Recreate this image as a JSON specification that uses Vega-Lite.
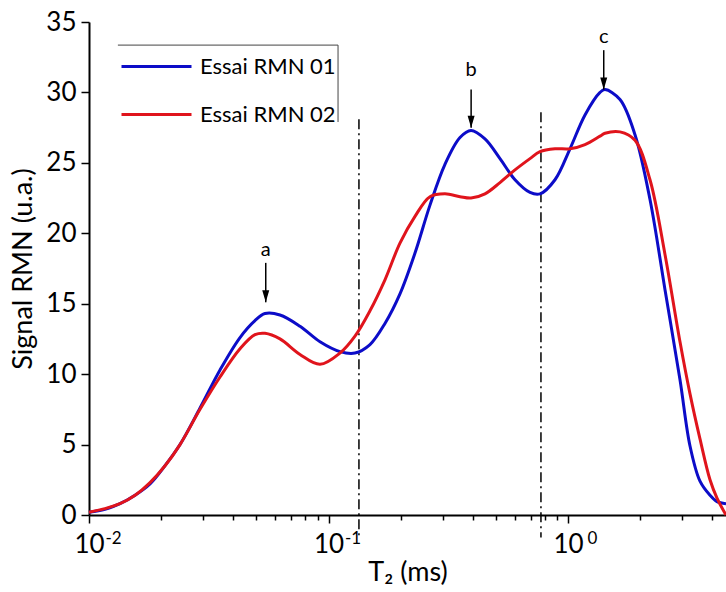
{
  "$schema": "https://vega.github.io/schema/vega-lite/v6.json",
  "width": 637,
  "height": 493,
  "autosize": {"type": "none"},
  "padding": {"left": 89, "top": 22, "right": 0, "bottom": 77},
  "config": {
    "view": {"stroke": null},
    "font": "Lato",
    "axis": {"grid": false, "domainColor": "black", "domainWidth": 2, "tickColor": "black", "tickWidth": 1.5, "labelColor": "black", "titleColor": "black", "titleFontWeight": "normal", "labelFlush": false, "labelOverlap": false}
  },
  "resolve": {"axis": {"x": "independent"}},
  "datasets": {
    "curves": [
      {"s": "Essai RMN 01", "t": 0.01, "v": 0.2},
      {"s": "Essai RMN 01", "t": 0.01166, "v": 0.4},
      {"s": "Essai RMN 01", "t": 0.01347, "v": 0.8},
      {"s": "Essai RMN 01", "t": 0.01557, "v": 1.4},
      {"s": "Essai RMN 01", "t": 0.01798, "v": 2.2},
      {"s": "Essai RMN 01", "t": 0.02077, "v": 3.5},
      {"s": "Essai RMN 01", "t": 0.02399, "v": 5.0},
      {"s": "Essai RMN 01", "t": 0.02908, "v": 7.6},
      {"s": "Essai RMN 01", "t": 0.03524, "v": 10.3},
      {"s": "Essai RMN 01", "t": 0.04271, "v": 12.6},
      {"s": "Essai RMN 01", "t": 0.04932, "v": 13.8},
      {"s": "Essai RMN 01", "t": 0.0543, "v": 14.3},
      {"s": "Essai RMN 01", "t": 0.06272, "v": 14.2},
      {"s": "Essai RMN 01", "t": 0.07603, "v": 13.4},
      {"s": "Essai RMN 01", "t": 0.09215, "v": 12.3},
      {"s": "Essai RMN 01", "t": 0.1117, "v": 11.6},
      {"s": "Essai RMN 01", "t": 0.129, "v": 11.5},
      {"s": "Essai RMN 01", "t": 0.149, "v": 12.1},
      {"s": "Essai RMN 01", "t": 0.1721, "v": 13.6},
      {"s": "Essai RMN 01", "t": 0.1988, "v": 15.7},
      {"s": "Essai RMN 01", "t": 0.2297, "v": 18.6},
      {"s": "Essai RMN 01", "t": 0.2653, "v": 22.0},
      {"s": "Essai RMN 01", "t": 0.3064, "v": 24.9},
      {"s": "Essai RMN 01", "t": 0.354, "v": 26.8},
      {"s": "Essai RMN 01", "t": 0.3936, "v": 27.3},
      {"s": "Essai RMN 01", "t": 0.4501, "v": 26.7},
      {"s": "Essai RMN 01", "t": 0.52, "v": 25.3},
      {"s": "Essai RMN 01", "t": 0.6007, "v": 23.8},
      {"s": "Essai RMN 01", "t": 0.6939, "v": 22.9},
      {"s": "Essai RMN 01", "t": 0.7641, "v": 22.8},
      {"s": "Essai RMN 01", "t": 0.8825, "v": 23.8},
      {"s": "Essai RMN 01", "t": 1.0195, "v": 26.0},
      {"s": "Essai RMN 01", "t": 1.1776, "v": 28.4},
      {"s": "Essai RMN 01", "t": 1.3603, "v": 30.0},
      {"s": "Essai RMN 01", "t": 1.4271, "v": 30.2},
      {"s": "Essai RMN 01", "t": 1.6487, "v": 29.5},
      {"s": "Essai RMN 01", "t": 1.9044, "v": 27.0},
      {"s": "Essai RMN 01", "t": 2.1997, "v": 22.4},
      {"s": "Essai RMN 01", "t": 2.541, "v": 16.0},
      {"s": "Essai RMN 01", "t": 2.935, "v": 9.6},
      {"s": "Essai RMN 01", "t": 3.2317, "v": 4.9},
      {"s": "Essai RMN 01", "t": 3.5572, "v": 2.4},
      {"s": "Essai RMN 01", "t": 3.9165, "v": 1.4},
      {"s": "Essai RMN 01", "t": 4.1892, "v": 0.95},
      {"s": "Essai RMN 01", "t": 4.5678, "v": 0.8},
      {"s": "Essai RMN 02", "t": 0.01, "v": 0.2},
      {"s": "Essai RMN 02", "t": 0.01166, "v": 0.45},
      {"s": "Essai RMN 02", "t": 0.01347, "v": 0.8},
      {"s": "Essai RMN 02", "t": 0.01557, "v": 1.4},
      {"s": "Essai RMN 02", "t": 0.01798, "v": 2.3},
      {"s": "Essai RMN 02", "t": 0.02077, "v": 3.5},
      {"s": "Essai RMN 02", "t": 0.02399, "v": 5.0},
      {"s": "Essai RMN 02", "t": 0.02908, "v": 7.5},
      {"s": "Essai RMN 02", "t": 0.03524, "v": 9.8},
      {"s": "Essai RMN 02", "t": 0.04271, "v": 11.8},
      {"s": "Essai RMN 02", "t": 0.04932, "v": 12.8},
      {"s": "Essai RMN 02", "t": 0.0543, "v": 12.9},
      {"s": "Essai RMN 02", "t": 0.06272, "v": 12.5},
      {"s": "Essai RMN 02", "t": 0.07603, "v": 11.4},
      {"s": "Essai RMN 02", "t": 0.09215, "v": 10.7},
      {"s": "Essai RMN 02", "t": 0.1117, "v": 11.5},
      {"s": "Essai RMN 02", "t": 0.129, "v": 12.7},
      {"s": "Essai RMN 02", "t": 0.149, "v": 14.5},
      {"s": "Essai RMN 02", "t": 0.1721, "v": 16.7},
      {"s": "Essai RMN 02", "t": 0.1988, "v": 19.3},
      {"s": "Essai RMN 02", "t": 0.2297, "v": 21.2},
      {"s": "Essai RMN 02", "t": 0.2653, "v": 22.6},
      {"s": "Essai RMN 02", "t": 0.3064, "v": 22.8},
      {"s": "Essai RMN 02", "t": 0.354, "v": 22.6},
      {"s": "Essai RMN 02", "t": 0.3936, "v": 22.5},
      {"s": "Essai RMN 02", "t": 0.4501, "v": 22.8},
      {"s": "Essai RMN 02", "t": 0.52, "v": 23.6},
      {"s": "Essai RMN 02", "t": 0.6007, "v": 24.5},
      {"s": "Essai RMN 02", "t": 0.6939, "v": 25.3},
      {"s": "Essai RMN 02", "t": 0.7641, "v": 25.8},
      {"s": "Essai RMN 02", "t": 0.8825, "v": 26.0},
      {"s": "Essai RMN 02", "t": 1.0195, "v": 26.0},
      {"s": "Essai RMN 02", "t": 1.1776, "v": 26.3},
      {"s": "Essai RMN 02", "t": 1.3603, "v": 26.9},
      {"s": "Essai RMN 02", "t": 1.4271, "v": 27.1},
      {"s": "Essai RMN 02", "t": 1.6487, "v": 27.2},
      {"s": "Essai RMN 02", "t": 1.9044, "v": 26.6},
      {"s": "Essai RMN 02", "t": 2.1997, "v": 23.8},
      {"s": "Essai RMN 02", "t": 2.541, "v": 18.5},
      {"s": "Essai RMN 02", "t": 2.935, "v": 12.3},
      {"s": "Essai RMN 02", "t": 3.2317, "v": 8.6},
      {"s": "Essai RMN 02", "t": 3.5572, "v": 5.4},
      {"s": "Essai RMN 02", "t": 3.9165, "v": 2.5},
      {"s": "Essai RMN 02", "t": 4.1892, "v": 1.2},
      {"s": "Essai RMN 02", "t": 4.5678, "v": 0.0}
    ],
    "limits": [
      {"t": 0.134, "top": 28.1, "bottom": -1.6},
      {"t": 0.771, "top": 28.6, "bottom": -1.6}
    ],
    "arrows": [
      {"k": "a", "t": 0.0547, "top": 17.9, "tip": 15.1, "ly": 18.8},
      {"k": "b", "t": 0.394, "top": 30.2, "tip": 27.5, "ly": 31.6},
      {"k": "c", "t": 1.41, "top": 33.0, "tip": 30.2, "ly": 33.9}
    ],
    "legendframe": [
      {"x1": 0.0132, "x2": 0.1096, "y1": 33.36, "y2": 33.36},
      {"x1": 0.1096, "x2": 0.1096, "y1": 27.9, "y2": 33.36}
    ]
  },
  "layer": [
    {
      "mark": {"type": "rule", "color": "black", "strokeWidth": 2},
      "encoding": {"y": {"datum": 35, "type": "quantitative", "scale": {"domain": [0, 35], "nice": false}}}
    },
    {
      "data": {"name": "legendframe"},
      "mark": {"type": "rule", "color": "#444", "strokeWidth": 1},
      "encoding": {
        "x": {"field": "x1", "type": "quantitative", "axis": null},
        "x2": {"field": "x2"},
        "y": {"field": "y1", "type": "quantitative"},
        "y2": {"field": "y2"}
      }
    },
    {
      "data": {"name": "limits"},
      "mark": {"type": "rule", "color": "black", "strokeWidth": 1.5, "strokeDash": [10, 4, 2, 4]},
      "encoding": {
        "x": {
          "field": "t", "type": "quantitative",
          "axis": {
            "orient": "bottom",
            "title": null,
            "domain": false,
            "ticks": false,
            "tickSize": 0,
            "labelFontSize": 17,
            "labelOffset": 24,
            "labelPadding": 15,
            "values": [0.01, 0.1, 1],
            "labelExpr": "datum.value === 0.01 ? '-2' : datum.value === 0.1 ? '-1' : '0'"
          }
        },
        "y": {"field": "top", "type": "quantitative"},
        "y2": {"field": "bottom"}
      }
    },
    {
      "data": {"name": "curves"},
      "mark": {"type": "line", "strokeWidth": 3, "interpolate": "catmull-rom"},
      "encoding": {
        "x": {
          "field": "t", "type": "quantitative",
          "scale": {"type": "log", "domain": [0.01, 4.5678], "nice": false},
          "axis": {
            "orient": "bottom",
            "title": "T₂ (ms)",
            "titleFontSize": 27,
            "titlePadding": 2,
            "labelFontSize": 26,
            "labelPadding": 8,
            "values": [0.01, 0.02, 0.03, 0.04, 0.05, 0.06, 0.07, 0.08, 0.09, 0.1, 0.2, 0.3, 0.4, 0.5, 0.6, 0.7, 0.8, 0.9, 1, 2, 3, 4],
            "labelExpr": "datum.value === 0.01 || datum.value === 0.1 || datum.value === 1 ? '10' : ''",
            "tickSize": {"condition": {"test": "datum.value === 0.01 || datum.value === 0.1 || datum.value === 1", "value": 8}, "value": 5}
          }
        },
        "y": {
          "field": "v", "type": "quantitative",
          "scale": {"domain": [0, 35], "nice": false},
          "axis": {
            "title": "Signal RMN (u.a.)",
            "titleFontSize": 27,
            "titlePadding": 8,
            "labelFontSize": 26,
            "labelPadding": 5,
            "values": [0, 2.5, 5, 7.5, 10, 12.5, 15, 17.5, 20, 22.5, 25, 27.5, 30, 32.5, 35],
            "labelExpr": "datum.value % 5 === 0 ? datum.label : ''",
            "tickSize": {"condition": {"test": "datum.value % 5 === 0", "value": 8}, "value": 5}
          }
        },
        "color": {
          "field": "s", "type": "nominal",
          "scale": {"domain": ["Essai RMN 01", "Essai RMN 02"], "range": ["#0c0cc8", "#e0141c"]},
          "legend": {
            "title": null,
            "orient": "none",
            "legendX": 31,
            "legendY": 8,
            "symbolType": "stroke",
            "symbolSize": 4900,
            "symbolStrokeWidth": 3,
            "labelFontSize": 22,
            "labelColor": "black",
            "labelOffset": 7,
            "rowPadding": -8,
            "padding": 0
          }
        }
      }
    },
    {
      "data": {"name": "arrows"},
      "mark": {"type": "rule", "color": "black", "strokeWidth": 1.5},
      "encoding": {
        "x": {"field": "t", "type": "quantitative", "axis": null},
        "y": {"field": "top", "type": "quantitative"},
        "y2": {"field": "tip"}
      }
    },
    {
      "data": {"name": "arrows"},
      "mark": {"type": "point", "shape": "M-0.7,-2.4L0.7,-2.4L0,0Z", "size": 100, "filled": true, "color": "black", "opacity": 1},
      "encoding": {
        "x": {"field": "t", "type": "quantitative", "axis": null},
        "y": {"field": "tip", "type": "quantitative"}
      }
    },
    {
      "data": {"name": "arrows"},
      "mark": {"type": "text", "fontSize": 20, "color": "black", "baseline": "middle", "align": "center"},
      "encoding": {
        "x": {"field": "t", "type": "quantitative", "axis": null},
        "y": {"field": "ly", "type": "quantitative"},
        "text": {"field": "k"}
      }
    }
  ]
}
